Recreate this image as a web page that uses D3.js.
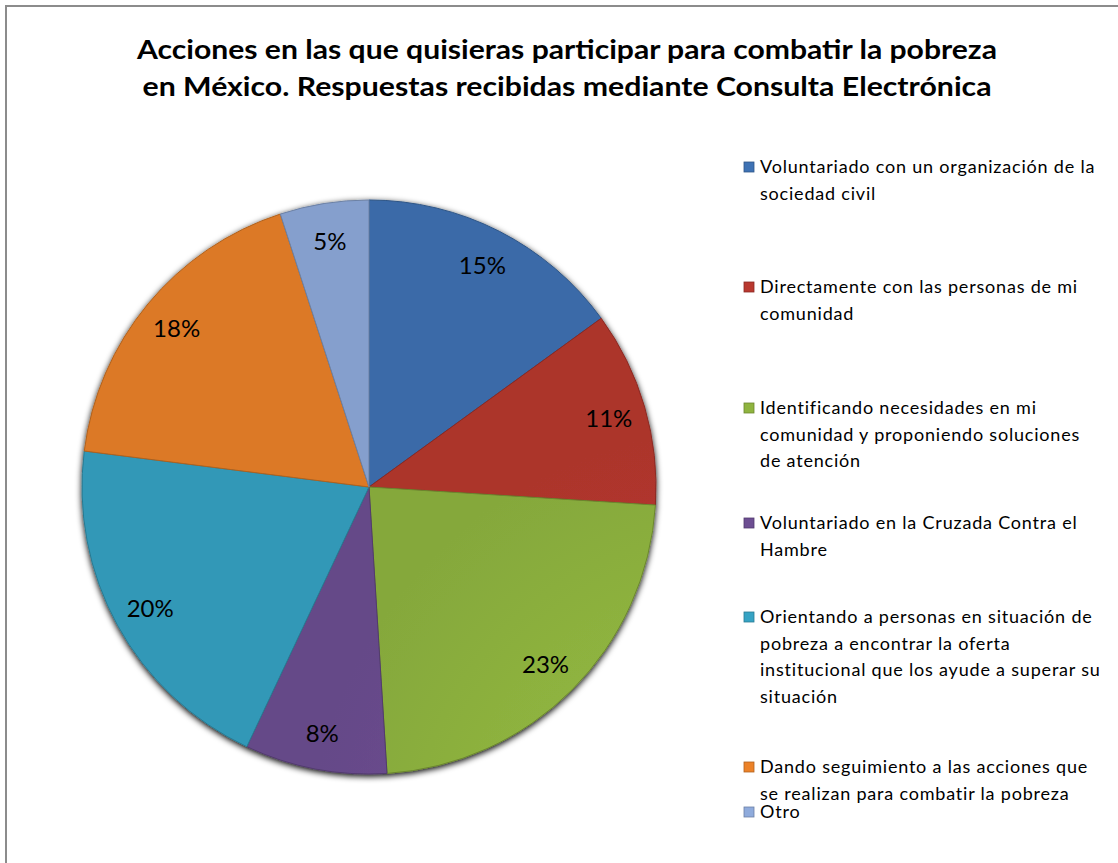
<!DOCTYPE html>
<meta charset="utf-8">
<style>
body{ margin:0; background:#fff; }
text{ font-family: Lato, "Open Sans", sans-serif; fill:#000; }
.title{ font-weight:bold; font-size:27px; text-anchor:middle; }
.pct{ font-size:24px; text-anchor:middle; dominant-baseline:central; }
.leg{ font-size:18px; letter-spacing:0.8px; }
</style>
<body>
<script src="https://cdn.jsdelivr.net/npm/d3@7"></script>
<script>

var categories = [
  ["Voluntariado con un organización de la", "sociedad civil"],
  ["Directamente con las personas de mi", "comunidad"],
  ["Identificando necesidades en mi", "comunidad y proponiendo soluciones", "de atención"],
  ["Voluntariado en la Cruzada Contra el", "Hambre"],
  ["Orientando a personas en situación de", "pobreza a encontrar la oferta", "institucional que los ayude a superar su", "situación"],
  ["Dando seguimiento a las acciones que", "se realizan para combatir la pobreza"],
  ["Otro"]
];
var values = [15, 11, 23, 8, 20, 18, 5];
var colors = ["#3e72b4", "#b9382f", "#8fb43f", "#6d4e92", "#36a3c4", "#ec8228", "#8fabdc"];
var titleLines = ["Acciones en las que quisieras participar para combatir la pobreza",
                  "en México. Respuestas recibidas mediante Consulta Electrónica"];

// layout
var W = 1118, H = 863;
var cx = 369, cy = 487, R = 287;
var legendTops = [167, 287, 408, 523, 617, 767, 812];
var lineH = 26.5;

var svg = d3.select("body").append("svg").attr("width", W).attr("height", H);

svg.append("rect").attr("x", 6).attr("y", 6).attr("width", W + 10).attr("height", H + 10)
  .attr("fill", "#fff").attr("stroke", "#8c8c8c").attr("stroke-width", 2);

svg.selectAll(".title").data(titleLines).enter().append("text")
  .attr("class", "title")
  .attr("x", 567)
  .attr("y", (d, i) => 59 + i * 37)
  .attr("textLength", (d, i) => i == 0 ? 860 : 849)
  .attr("lengthAdjust", "spacingAndGlyphs")
  .text(d => d);

var defs = svg.append("defs");
colors.forEach(function(c, i){
  var g = defs.append("radialGradient").attr("id", "grad" + i)
    .attr("gradientUnits", "userSpaceOnUse")
    .attr("cx", cx).attr("cy", cy - R * 0.4).attr("r", R * 1.5);
  g.append("stop").attr("offset", "0%").attr("stop-color", d3.color(c).brighter(0.2));
  g.append("stop").attr("offset", "100%").attr("stop-color", d3.color(c).darker(0.2));
});
var sh = defs.append("filter").attr("id", "shadow").attr("x", "-10%").attr("y", "-10%").attr("width", "120%").attr("height", "120%");
sh.append("feGaussianBlur").attr("in", "SourceAlpha").attr("stdDeviation", 3);
sh.append("feOffset").attr("dx", 0).attr("dy", 2).attr("result", "b");
var mg = sh.append("feMerge");
mg.append("feMergeNode").attr("in", "b");
mg.append("feMergeNode").attr("in", "SourceGraphic");

var pie = d3.pie().sort(null).value(d => d);
var arcs = pie(values);
var arc = d3.arc().innerRadius(0).outerRadius(R);
var labelArc = d3.arc().innerRadius(R * 0.87).outerRadius(R * 0.87);

var g = svg.append("g").attr("transform", "translate(" + cx + "," + cy + ")");
g.append("g").attr("filter", "url(#shadow)")
  .selectAll("path").data(arcs).enter().append("path")
  .attr("d", arc)
  .attr("fill", (d, i) => "url(#grad" + i + ")")
  .attr("stroke", (d, i) => d3.color(colors[i]).darker(0.8))
  .attr("stroke-width", 1);

g.selectAll(".pct").data(arcs).enter().append("text")
  .attr("class", "pct")
  .attr("transform", d => "translate(" + labelArc.centroid(d) + ")")
  .text(d => d3.format(".0%")(d.data / 100));

var leg = svg.selectAll(".legItem").data(categories).enter().append("g")
  .attr("class", "legItem")
  .attr("transform", (d, i) => "translate(744," + legendTops[i] + ")");
leg.append("rect").attr("x", 0).attr("y", -5).attr("width", 10).attr("height", 10)
  .attr("fill", (d, i) => colors[i])
  .attr("stroke", (d, i) => d3.color(colors[i]).darker(0.8)).attr("stroke-width", 0.8);
leg.each(function(lines){
  d3.select(this).selectAll("text").data(lines).enter().append("text")
    .attr("class", "leg")
    .attr("x", 16)
    .attr("y", (d, j) => j * lineH + 6)
    .text(d => d);
});
</script>
</body>
